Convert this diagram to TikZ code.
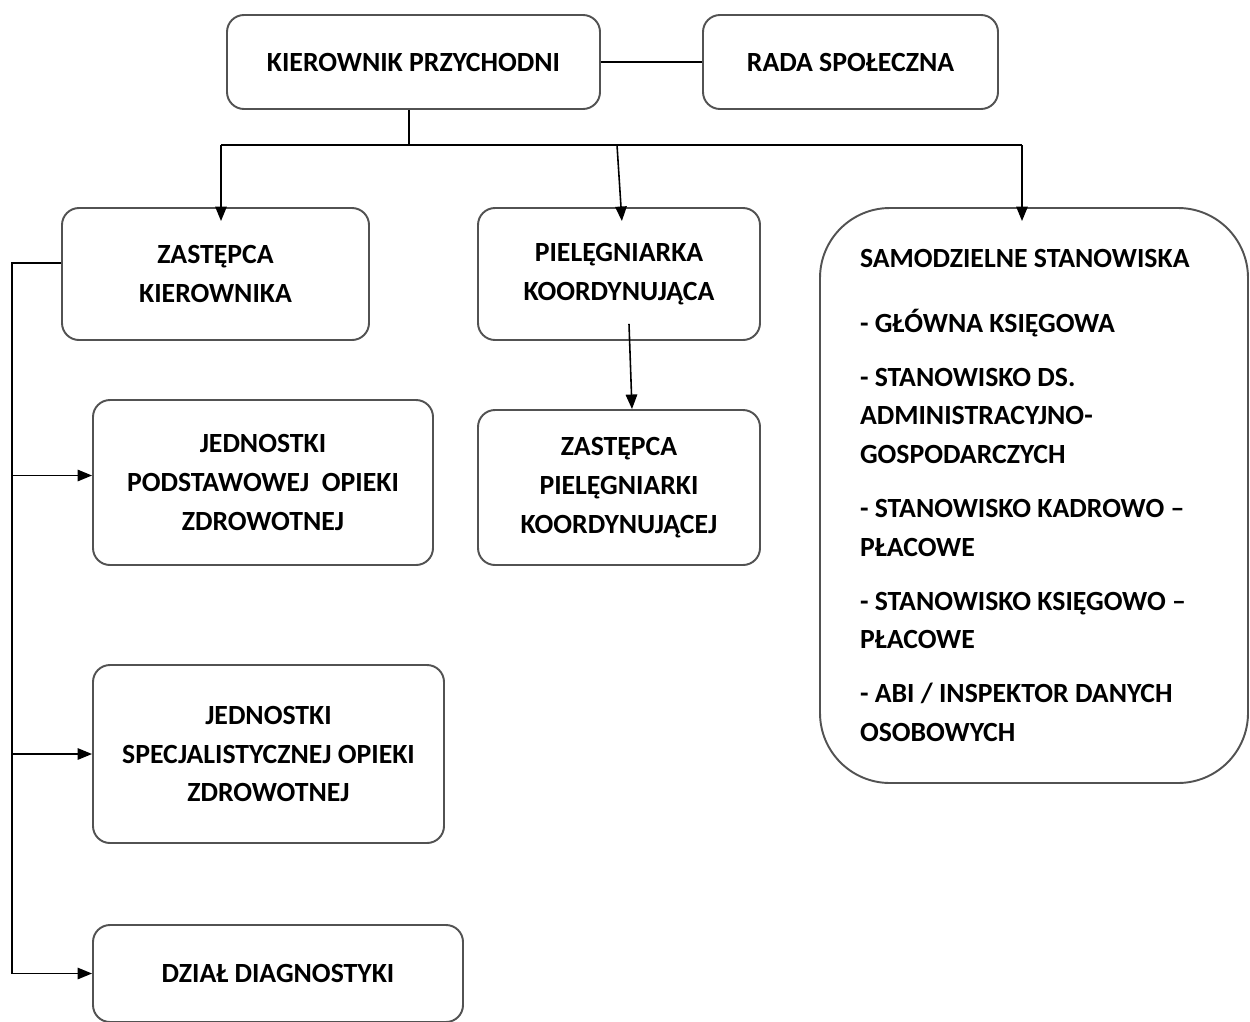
\documentclass[tikz,border=0pt]{standalone}
\usepackage{fontspec}
\setmainfont{Carlito}
\usetikzlibrary{arrows.meta,calc}
\begin{document}
\begin{tikzpicture}[x=0.02cm,y=-0.02cm,
  box/.style={draw=black!68, line width=1.1pt, rounded corners=0.34cm, align=center,
    font=\fontsize{15.8}{22.1}\selectfont\bfseries, inner sep=0pt},
  conn/.style={line width=0.9pt, draw=black},
  arr/.style={conn, -{Triangle[length=0.29cm,width=0.23cm]}}]
\useasboundingbox (0,0) rectangle (1250,1021);
\clip (0,0) rectangle (1250,1021);
% boxes
\node[box, minimum width=373*0.02cm, minimum height=94*0.02cm] (kp) at (413.5,62) {KIEROWNIK PRZYCHODNI};
\node[box, minimum width=295*0.02cm, minimum height=94*0.02cm] (rada) at (850.5,62) {RADA SPOŁECZNA};
\node[box, minimum width=307*0.02cm, minimum height=132*0.02cm] (zk) at (215.5,274) {ZASTĘPCA\\KIEROWNIKA};
\node[box, minimum width=282*0.02cm, minimum height=132*0.02cm] (piel) at (619,274) {PIELĘGNIARKA\\KOORDYNUJĄCA};
\node[box, minimum width=282*0.02cm, minimum height=155*0.02cm] (zp) at (619,487.5) {ZASTĘPCA\\PIELĘGNIARKI\\KOORDYNUJĄCEJ};
\node[box, minimum width=340*0.02cm, minimum height=165*0.02cm] (jpoz) at (263,482.5) {JEDNOSTKI\\PODSTAWOWEJ~ OPIEKI\\ZDROWOTNEJ};
\node[box, minimum width=351*0.02cm, minimum height=178*0.02cm] (jsoz) at (268.5,754) {JEDNOSTKI\\SPECJALISTYCZNEJ OPIEKI\\ZDROWOTNEJ};
\node[box, minimum width=370*0.02cm, minimum height=97*0.02cm] (dd) at (278,973.5) {DZIAŁ DIAGNOSTYKI};
\node[box, align=flush left, text width=348*0.02cm, inner xsep=40*0.02cm, minimum height=575*0.02cm,
  rounded corners=1.4cm] (sam) at (1034,495.5)
  {SAMODZIELNE STANOWISKA\\[0.52cm]
   - GŁÓWNA KSIĘGOWA\\[0.3cm]
   - STANOWISKO DS.\\
   ADMINISTRACYJNO-\\
   GOSPODARCZYCH\\[0.3cm]
   - STANOWISKO KADROWO –\\
   PŁACOWE\\[0.3cm]
   - STANOWISKO KSIĘGOWO –\\
   PŁACOWE\\[0.3cm]
   - ABI / INSPEKTOR DANYCH\\
   OSOBOWYCH};
% connectors
\coordinate (b0) at (409,145);
\coordinate (bl) at (221,145);
\coordinate (bm) at (617,145);
\coordinate (br) at (1022,145);
\coordinate (lt) at (12,263);
\draw[conn] (kp.east) -- (rada.west);
\draw[conn] (kp.south -| b0) -- (b0);
\draw[conn] (bl) -- (br);
\draw[arr, shorten >=-0.28cm] (bl) -- (bl |- zk.north);
\draw[arr, shorten >=-0.28cm] (bm) -- ($(piel.north)+(2,0)$);
\draw[arr, shorten >=-0.28cm] (br) -- (br |- sam.north);
\draw[arr] ($(piel.south)+(10,-17)$) -- ($(zp.north)+(13,0)$);
\draw[conn] ($(zk.west)+(0,-11)$) -- (lt) -- (lt |- dd.west);
\draw[arr] ($(lt |- jpoz.west)+(0,-7)$) -- ($(jpoz.west)+(0,-7)$);
\draw[arr] (lt |- jsoz.west) -- (jsoz.west);
\draw[arr] (lt |- dd.west) -- (dd.west);
\end{tikzpicture}
\end{document}
